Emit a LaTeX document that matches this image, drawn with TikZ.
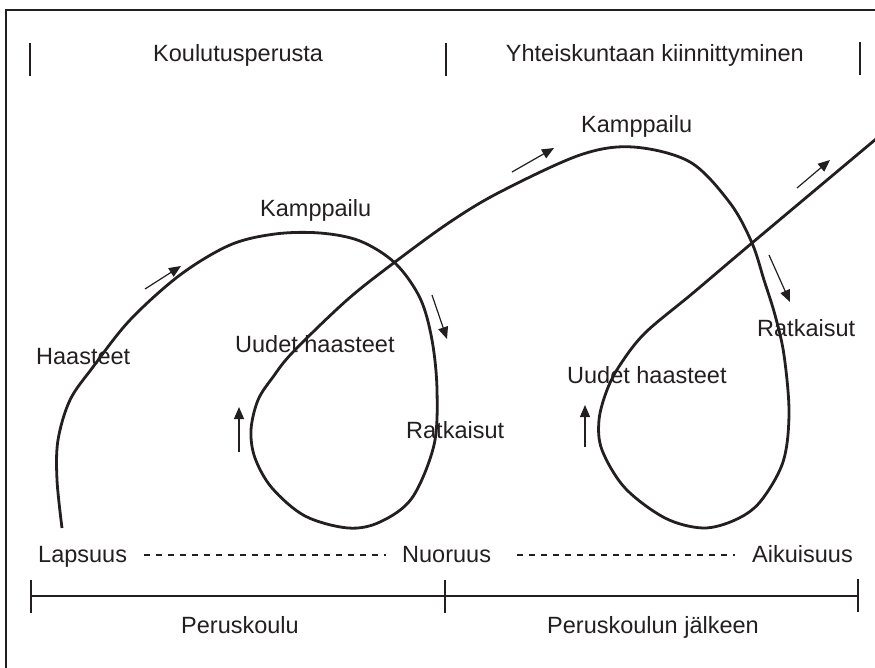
\documentclass[tikz,border=0pt]{standalone}
\usepackage{fontspec}
\setmainfont{Liberation Sans}
\usetikzlibrary{arrows.meta}
\definecolor{ink}{HTML}{231F20}
\begin{document}
\begin{tikzpicture}[x=1pt,y=-1pt,
  lbl/.style={anchor=base west,inner sep=0pt,text=ink,font=\fontsize{23.5}{27}\selectfont},
  lblc/.style={anchor=base,inner sep=0pt,text=ink,font=\fontsize{23.5}{27}\selectfont},
  curve/.style={line width=2.8pt,draw=ink,line join=round},
  dir/.style={line width=1.2pt,draw=ink,-{Triangle[length=12pt,width=10pt]}},
  bar/.style={line width=2.6pt,draw=ink},
  dots/.style={line width=1.8pt,draw=ink,dash pattern=on 6pt off 6pt}]
\useasboundingbox (0,0) rectangle (875,668);
% frame
\draw[line width=1.3pt,draw=ink] (6,668) -- (6,10) -- (875,10);
% top headings
\draw[bar] (30,43) -- (30,76);
\draw[bar] (446,43) -- (446,76);
\draw[bar] (860,42) -- (860,75);
\node[lbl] (kp) at (153,62) {Koulutusperusta};
\node[lbl,anchor=base east] (yk) at (804,62) {Yhteiskuntaan kiinnittyminen};
% main curve
\draw[curve] plot[smooth,tension=0.55] coordinates {
 (62,528) (57,480) (58,440) (70,400) (93,367) (130,320) (180,275) (230,245)
 (275,234) (320,233) (360,241) (395,263) (420,298) (432,340) (437,390)
 (434,445) (412,498) (380,522) (348,528) (305,516) (272,488) (255,458)
 (251,430) (258,400) (273,377) (293,352) (347,300) (395,262) (450,222)
 (500,192) (580,155) (633,147) (690,162) (730,203) (752,243) (764,280)
 (775,315) (784,355) (789,413) (783,462) (760,502) (735,520) (703,528) (665,518)
 (625,488) (602,450) (599,420) (607,390) (620,365) (645,333) (693,293)
 (752,243) (876,139)};
% direction arrows
\coordinate (a1s) at (145,289); \coordinate (a1e) at (181,266);
\coordinate (a2s) at (432,295); \coordinate (a2e) at (447,339);
\coordinate (a3s) at (239,452); \coordinate (a3e) at (239,407);
\coordinate (a4s) at (512,172); \coordinate (a4e) at (554,148);
\coordinate (a5s) at (797,188); \coordinate (a5e) at (830,160);
\coordinate (a6s) at (769,255); \coordinate (a6e) at (790,302);
\coordinate (a7s) at (585,447); \coordinate (a7e) at (585,405);
\foreach \i in {1,...,7} {\draw[dir] (a\i s) -- (a\i e);}
% labels along curve
\node[lbl] (h1) at (36,364) {Haasteet};
\node[lbl] (k1) at (260,217) {Kamppailu};
\node[lbl] (u1) at (235,352) {Uudet haasteet};
\node[lbl] (r1) at (406,438) {Ratkaisut};
\node[lbl] (k2) at (581,133) {Kamppailu};
\node[lbl] (r2) at (757,336) {Ratkaisut};
\node[lbl] (u2) at (567,383) {Uudet haasteet};
% life stages
\node[lbl] (lap) at (38,562) {Lapsuus};
\node[lbl] (nuo) at (402,562) {Nuoruus};
\node[lbl] (aik) at (752,562) {Aikuisuus};
\draw[dots] (144,555) -- (386,555);
\draw[dots] (517,555) -- (735,555);
% school timeline
\coordinate (t0) at (31,596); \coordinate (t2) at (858,596);
\draw[bar] (t0) -- (t2);
\draw[bar] (31,580) -- (31,613);
\draw[bar] (445,580) -- (445,613);
\draw[bar] (858,579) -- (858,612);
\node[lblc] (pk) at (240,633) {Peruskoulu};
\node[lblc] (pkj) at (653,633) {Peruskoulun jälkeen};
\end{tikzpicture}
\end{document}
